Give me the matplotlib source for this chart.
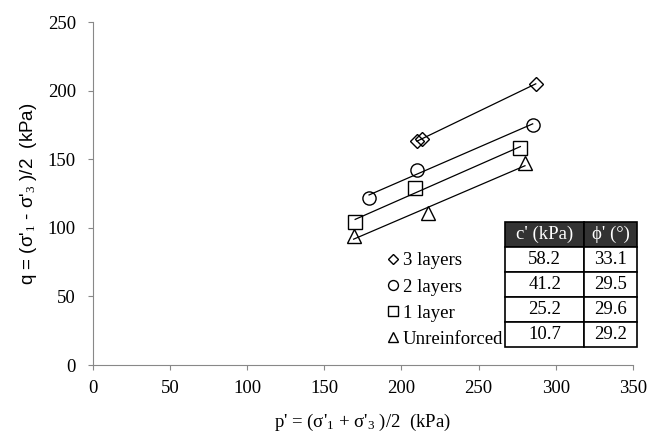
import numpy as np
import matplotlib
matplotlib.use("Agg")
import matplotlib.pyplot as plt

plt.rcParams['font.family'] = ['Liberation Serif', 'DejaVu Serif']
plt.rcParams['mathtext.fontset'] = 'custom'
plt.rcParams['mathtext.rm'] = 'Liberation Serif'
plt.rcParams['mathtext.it'] = 'Liberation Serif:italic'

# stress path end points (p', q in kPa)
p_3layers = [210, 213, 287]
q_3layers = [163, 165, 205]
p_2layers = [179, 210, 285]
q_2layers = [122, 142, 175]
p_1layer = [170, 209, 277]
q_1layer = [104, 129, 158]
p_unrein = [169, 217, 280]
q_unrein = [94, 111, 147]

labels = ["3 layers", "2 layers", "1 layer", "Unreinforced"]
markers = ["D", "o", "s", "^"]
msizes = [7, 9.5, 9.5, 9.5]

c_vals = ["58.2", "41.2", "25.2", "10.7"]
phi_vals = ["33.1", "29.5", "29.6", "29.2"]

series = [(p_3layers, q_3layers), (p_2layers, q_2layers),
          (p_1layer, q_1layer), (p_unrein, q_unrein)]

fig = plt.figure(figsize=(6.72, 4.42), dpi=100)
ax = fig.add_axes([0.138, 0.174, 0.804, 0.776])

for (p, q), lab, m, ms in zip(series, labels, markers, msizes):
    p = np.array(p); q = np.array(q)
    k, b = np.polyfit(p, q, 1)
    xx = np.array([p.min(), p.max()])
    ax.plot(xx, k * xx + b, color='black', lw=0.9)
    ax.plot(p, q, linestyle='none', marker=m, markersize=ms,
            markerfacecolor='none', markeredgecolor='black', mew=1.0, label=lab)

ax.set_xlim(0, 350)
ax.set_ylim(0, 250)
ax.set_xticks(range(0, 351, 50))
ax.set_yticks(range(0, 251, 50))
for s in ['top', 'right']:
    ax.spines[s].set_visible(False)
for s in ['left', 'bottom']:
    ax.spines[s].set_color('#888888')
ax.tick_params(colors='#888888', labelcolor='black', labelsize=13.5, length=3.6)
ax.tick_params(axis='x', pad=7)
ax.tick_params(axis='y', pad=8.5)

ax.set_xlabel("p' = (σ'$_1$ + σ'$_3$ )/2  (kPa)", fontsize=13.5, labelpad=11)
ax.set_ylabel("q = (σ'$_1$ - σ'$_3$ )/2  (kPa)", fontsize=13.5,
              family=['Liberation Sans', 'DejaVu Sans'], labelpad=6)

leg = ax.legend(loc='lower right', bbox_to_anchor=(0.784, 0.012), frameon=False,
                fontsize=13.5, handlelength=0.6, handletextpad=0.25,
                labelspacing=0.48, borderpad=0.2, markerscale=0.75)

cell_text = [[c, f] for c, f in zip(c_vals, phi_vals)]
tab = ax.table(cellText=cell_text, colLabels=["c' (kPa)", "ϕ' (°)"],
               cellLoc='center', bbox=[0.763, 0.052, 0.245, 0.365],
               colWidths=[0.6, 0.4])
tab.auto_set_font_size(False)
for (r, c), cell in tab.get_celld().items():
    cell.set_linewidth(1.2)
    cell.set_edgecolor('black')
    cell.get_text().set_fontsize(13.5)
    if r == 0:
        cell.set_facecolor('#333333')
        cell.get_text().set_color('white')
tab.set_clip_on(False)

fig.savefig("out.png", dpi=100)
